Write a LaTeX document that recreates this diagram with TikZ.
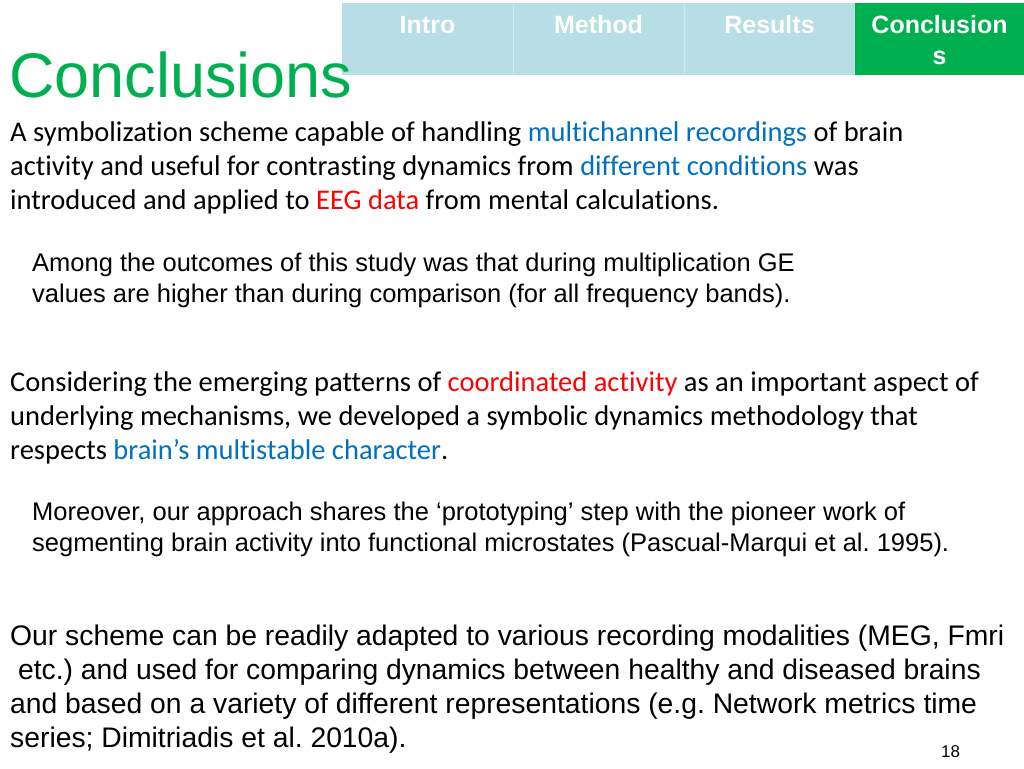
\documentclass[tikz,border=0pt]{standalone}
\usepackage{fontspec}
\setmainfont{Liberation Sans}
\newfontfamily\calib[Ligatures=NoCommon]{Carlito}
\newfontfamily\ari{Liberation Sans}
\definecolor{tabblue}{RGB}{183,222,228}
\definecolor{tabgreen}{RGB}{0,176,80}
\definecolor{txtblue}{RGB}{0,112,192}
\definecolor{txtred}{RGB}{255,0,0}
\tikzset{
  x=1pt,y=-1pt,
  tabtxt/.style={text=white,font=\ari\bfseries\fontsize{25}{30}\selectfont,inner sep=0pt,anchor=base},
  cline/.style={anchor=base west,inner sep=0pt,font=\calib\fontsize{28.5}{34}\selectfont},
  aline/.style={anchor=base west,inner sep=0pt,font=\ari\fontsize{25.5}{30}\selectfont},
  bline/.style={anchor=base west,inner sep=0pt,font=\ari\fontsize{28.3}{34}\selectfont},
}
\newcommand{\bl}[1]{\textcolor{txtblue}{#1}}
\newcommand{\rd}[1]{\textcolor{txtred}{#1}}
\frenchspacing
\begin{document}
\begin{tikzpicture}
\useasboundingbox[fill=white] (0,0) rectangle (1024,768);
% tabs
\fill[tabblue] (342,3) rectangle (855,75);
\draw[white!35!tabblue,line width=0.6pt] (513,3) -- (513,75) (684,3) -- (684,75);
\fill[tabgreen] (855,3) rectangle (1024,75);
\node[tabtxt] (t1) at (427.5,34) {Intro};
\node[tabtxt] (t2) at (598.5,34) {Method};
\node[tabtxt] (t3) at (769.5,34) {Results};
\node[tabtxt] (t4) at (939.5,34) {Conclusion};
\node[tabtxt] (t4b) at (939.5,64) {s};
% title
\node[anchor=base west,inner sep=0pt,text=tabgreen,font=\ari\fontsize{63}{70}\selectfont] (title) at (9,97) {Conclusions};
% paragraph 1
\node[cline] (p1a) at (10,141) {A symbolization scheme capable of handling \bl{multichannel recordings} of brain};
\node[cline] (p1b) at (10,175) {activity and useful for contrasting dynamics from \bl{different conditions} was};
\node[cline] (p1c) at (10,209) {introduced and applied to \rd{EEG data} from mental calculations.};
% paragraph 2
\node[aline] (p2a) at (32,271) {Among the outcomes of this study was that during multiplication GE};
\node[aline] (p2b) at (32,302) {values are higher than during comparison (for all frequency bands).};
% paragraph 3
\node[cline] (p3a) at (10,391) {Considering the emerging patterns of \rd{coordinated activity} as an important aspect of};
\node[cline] (p3b) at (10,425) {underlying mechanisms, we developed a symbolic dynamics methodology that};
\node[cline] (p3c) at (10,459) {respects \bl{brain’s multistable character}.};
% paragraph 4
\node[aline] (p4a) at (32,520) {Moreover, our approach shares the ‘prototyping’ step with the pioneer work of};
\node[aline] (p4b) at (32,551) {segmenting brain activity into functional microstates (Pascual-Marqui et al. 1995).};
% paragraph 5
\node[bline] (p5a) at (10,645) {Our scheme can be readily adapted to various recording modalities (MEG, Fmri};
\node[bline] (p5b) at (10,679) {\ etc.) and used for comparing dynamics between healthy and diseased brains};
\node[bline] (p5c) at (10,713) {and based on a variety of different representations (e.g. Network metrics time};
\node[bline] (p5d) at (10,747) {series; Dimitriadis et al. 2010a).};
% page number
\node[anchor=base west,inner sep=0pt,font=\ari\fontsize{17}{20}\selectfont] (pg) at (941,757) {18};
\end{tikzpicture}
\end{document}
